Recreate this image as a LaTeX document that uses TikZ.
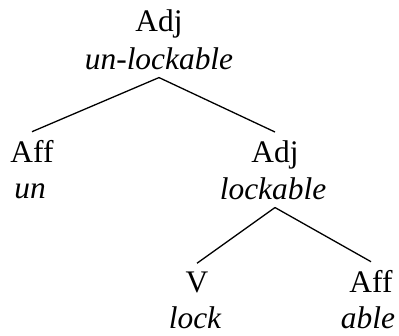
\documentclass[tikz,border=0pt]{standalone}
\usepackage{fontspec}
\setmainfont{Liberation Serif}
\usepackage{tikz}

\begin{document}
\begin{tikzpicture}[x=1pt,y=-1pt,
		cat/.style={anchor=base, inner xsep=0pt, inner ysep=8pt, font=\fontsize{31.4}{38}\selectfont},
		word/.style={cat, font=\fontsize{31.4}{38}\selectfont\itshape}]
		\useasboundingbox (0,0) rectangle (399,335);

		% Root
		\node[cat] (root) at (159,31) {Adj};
		\node[word] (root_w) at (159,69) {un-lockable};

		% First level
		\node[cat] (aff_l) at (32,162) {Aff};
		\node[word] (aff_l_w) at (30,198) {un};
		\node[cat] (adj_r) at (275,162) {Adj};
		\node[word] (adj_r_w) at (273,199) {lockable};

		\draw[line width=1.3pt] (root_w.south) -- (aff_l.north);
		\draw[line width=1.3pt] (root_w.south) -- (adj_r.north);

		% Second level
		\node[cat] (v) at (197,292) {V};
		\node[word, inner ysep=0pt] (v_w) at (195,328) {lock};
		\node[cat] (aff_r) at (371,292) {Aff};
		\node[word, inner ysep=0pt] (aff_r_w) at (368,328) {able};

		\draw[line width=1.3pt] (adj_r_w.south -| adj_r) -- (v.north);
		\draw[line width=1.3pt] (adj_r_w.south -| adj_r) -- (aff_r.north);
\end{tikzpicture}
\end{document}
